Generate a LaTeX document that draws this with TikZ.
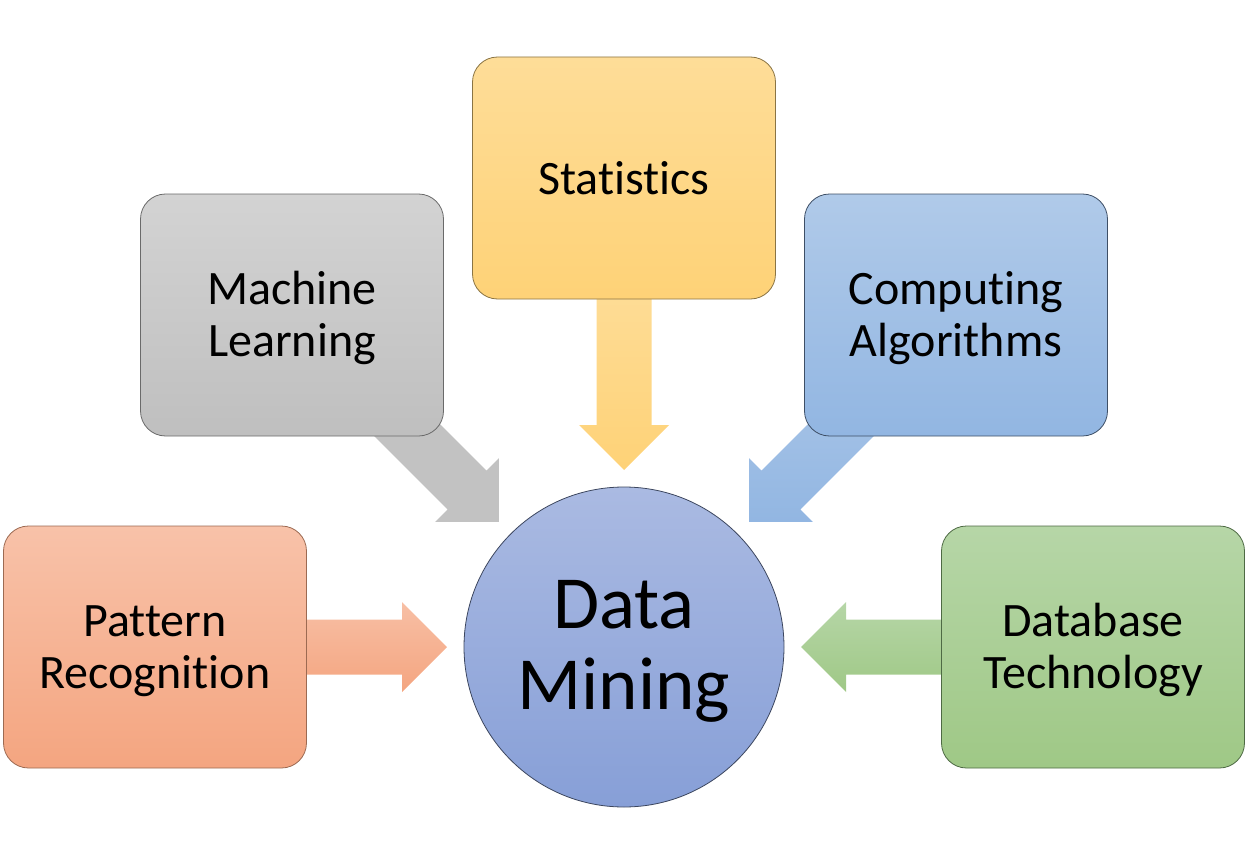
\documentclass[tikz,border=0pt]{standalone}
\usepackage{fontspec}
\setmainfont{Carlito}[RawFeature={-liga;-clig}]
\usetikzlibrary{calc}
\pgfdeclarelayer{background}
\pgfsetlayers{background,main}
\definecolor{orT}{HTML}{F8C2A9}\definecolor{orB}{HTML}{F4A580}\definecolor{orD}{HTML}{9C6A52}
\definecolor{grT}{HTML}{D3D3D3}\definecolor{grB}{HTML}{BFBFBF}\definecolor{grD}{HTML}{6A6A6A}
\definecolor{yeT}{HTML}{FEDD98}\definecolor{yeB}{HTML}{FED277}\definecolor{yeD}{HTML}{8A7444}
\definecolor{blT}{HTML}{B0CAE9}\definecolor{blB}{HTML}{92B6E2}\definecolor{blD}{HTML}{3E4F66}
\definecolor{gnT}{HTML}{B6D6A7}\definecolor{gnB}{HTML}{9FC886}\definecolor{gnD}{HTML}{4E6A44}
\definecolor{ciT}{HTML}{AABAE2}\definecolor{ciB}{HTML}{879FD7}\definecolor{ciD}{HTML}{3C465E}
\newcommand\toprule[1]{\rule{0pt}{#1}}
\tikzset{
  box/.style={rounded corners=25pt, minimum width=303pt, minimum height=242pt,
    align=center, line width=0.8pt, font=\fontsize{48}{52}\selectfont, inner sep=0pt},
  hub/.style={circle, minimum size=320pt, align=center, line width=0.8pt,
    font=\fontsize{75}{81}\selectfont, inner sep=0pt},
}
\newcommand\blockarrow[3]{%
  \coordinate (ba-s) at ($(#2.center)!100pt!(#3.center)$);
  \coordinate (ba-t) at ($(#3.center)!177pt!(#2.center)$);
  \coordinate (ba-b) at ($(ba-t)!45pt!(ba-s)$);
  \path[#1] ($(ba-s)!27.5pt!90:(ba-t)$) -- ($(ba-b)!27.5pt!90:(ba-t)$)
    -- ($(ba-b)!45pt!90:(ba-t)$) -- (ba-t) -- ($(ba-b)!45pt!-90:(ba-t)$)
    -- ($(ba-b)!27.5pt!-90:(ba-t)$) -- ($(ba-s)!27.5pt!-90:(ba-t)$) -- cycle;
}
\begin{document}
\begin{tikzpicture}[x=1pt,y=-1pt]
\useasboundingbox (0,0) rectangle (1248,864);
\node[hub, draw=ciD, top color=ciT, bottom color=ciB] (dm) at (624,647) {\toprule{56pt}Data\\Mining};
\node[box, draw=orD, top color=orT, bottom color=orB] (pr) at (155,647) {\toprule{40pt}Pattern\\Recognition};
\node[box, draw=grD, top color=grT, bottom color=grB] (ml) at (292,315) {\toprule{40pt}Machine\\Learning};
\node[box, draw=yeD, top color=yeT, bottom color=yeB] (st) at (624,178) {Statistics};
\node[box, draw=blD, top color=blT, bottom color=blB] (ca) at (956,315) {\toprule{40pt}Computing\\Algorithms};
\node[box, draw=gnD, top color=gnT, bottom color=gnB] (db) at (1093,647) {\toprule{40pt}Database\\Technology};
\begin{pgfonlayer}{background}
\blockarrow{top color=orT!90!orB, bottom color=orB}{pr}{dm}
\blockarrow{fill=grB!95!white}{ml}{dm}
\blockarrow{top color=yeT, bottom color=yeB}{st}{dm}
\blockarrow{top color=blT!80!blB, bottom color=blB}{ca}{dm}
\blockarrow{top color=gnT, bottom color=gnB}{db}{dm}
\end{pgfonlayer}
\end{tikzpicture}
\end{document}
